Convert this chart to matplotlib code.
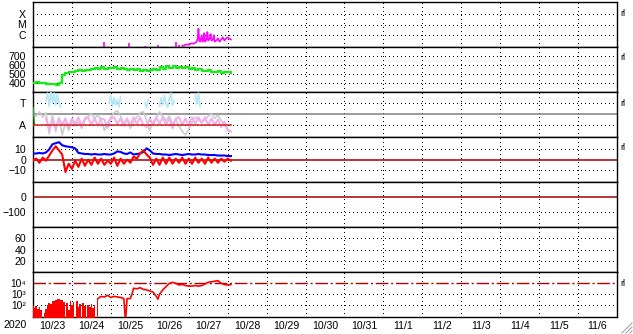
import numpy as np
import matplotlib

matplotlib.use("Agg")
import matplotlib.pyplot as plt
from matplotlib.lines import Line2D

plt.rcParams["font.family"] = ["Liberation Sans", "DejaVu Sans"]

# --- data (time in hours from 2020-10-23 00:00) ---
date_labels = ["10/23", "10/24", "10/25", "10/26", "10/27", "10/28", "10/29",
               "10/30", "10/31", "11/1", "11/2", "11/3", "11/4", "11/5", "11/6"]

# 2-hour cadence, 0..122 h
speed = [405, 410, 400, 395, 388, 385, 390, 383, 395, 490, 515, 525, 520, 530, 540, 535,
         545, 540, 550, 565, 560, 575, 555, 570, 565, 580, 560, 570, 550, 545, 555, 540,
         550, 535, 540, 530, 545, 560, 540, 575, 560, 585, 570, 590, 565, 580, 570, 575,
         560, 565, 545, 555, 535, 530, 540, 525, 520, 530, 515, 525, 520, 510]

bt = [6, 6, 6.5, 6, 7, 10, 15, 16, 17, 14, 13, 12.5, 12, 11, 6.5, 6, 5.5, 5.5, 5, 5.5,
      5, 5, 5.5, 5, 5, 6, 8, 7.5, 6, 5.5, 7, 5, 5.5, 6, 7.5, 11, 9, 6, 5.5, 5.5, 5, 5,
      4.5, 5, 5.5, 5, 4.5, 5, 5.5, 5, 5, 5.5, 5, 5, 4.5, 4.5, 4.5, 4, 4, 4, 3.5, 3.5]

bz = [-1, 1, -3, 2, -1, 4, 9, 13, 9, 5, -12, -4, -9, -1, -7, 1, -6, 0, -5, 2, -4, 1,
      -5, -1, -4, 2, -6, 1, -4, 0, -3, 3, 1, 6, 9, 5, 2, -5, 1, -5, 2, -4, 2, -4, 1, -3,
      2, -4, 1, -4, 2, -3, 1, -4, 2, -3, 1, -3, 1, -2, 1, -1]

# T/A panel: A = 0, T = 1
ta_gray = [0.5, 0.4, 0.6, 0.35, 0.55, -0.4, 0.45, -0.3, 0.35, -0.45, 0.1, -0.25, 0.2,
           -0.05, 0.15, -0.15, 0.2, 0.4, 0.5, 0.3, 0.45, 0.2, -0.25, 0.1, 0.35, 0.55, 0.65,
           0.4, 0.05, 0.25, -0.15, 0.15, 0.35, 0.55, 0.6, 0.2, -0.25, 0.1, 0.35, 0.6, 0.4,
           0.2, 0.4, 0.05, 0.25, -0.05, -0.3, -0.45, -0.2, 0.1, 0.35, 0.25, 0.1, 0.25,
           0.4, 0.5, 0.3, 0.45, 0.2, 0.0, -0.2, -0.3]
ta_pink = [0.3, -0.2, 0.25, -0.15, 0.3, 0.0, 0.3, -0.1, 0.3, 0.05, 0.35, -0.05, 0.3, 0.35,
           0.0, 0.3, -0.05, 0.3, 0.25, -0.15, 0.3, 0.35, 0.05, 0.3, -0.05, 0.3, 0.0, 0.35,
           0.05, 0.35, 0.0, -0.1, 0.3, 0.0, 0.35, 0.05, 0.35, 0.0, 0.3, -0.15, 0.3, 0.35,
           0.0, 0.3, -0.05, 0.35, 0.05, 0.35, 0.1, 0.35, 0.0, 0.3, 0.0, 0.25, -0.1, 0.15,
           -0.25, -0.3]
ta_blue_hours = [8, 9, 10, 11, 12, 13, 14, 15, 16, 17, np.nan, 47, 48, 49, 50, 51, 52, 53,
                 54, np.nan, 69, 70, 71, np.nan, 78, 79, 80, 81, 82, 83, 84, 85, 86, 87,
                 np.nan, 100, 101, 102, 103]
ta_blue = [1.1, 1.45, 0.85, 1.5, 1.0, 1.45, 0.9, 1.4, 1.05, 0.8, np.nan, 1.0, 1.35, 0.85,
           1.25, 0.9, 1.15, 0.8, 1.3, np.nan, 1.0, 0.8, 1.15, np.nan, 0.85, 1.25, 0.9, 1.35,
           0.95, 0.8, 1.2, 1.45, 0.9, 1.1, np.nan, 1.35, 0.95, 1.45, 0.85]
ta_green_hours = [0, 0.3, 0.6, 1.0]
ta_green = [0.8, 0.6, 0.3, 0.0]

# X-ray flux, log10 W/m2
xray_spike_hours = [44, 59, 69, 77, 88, 90]
xray_spike = [-6.63, -6.72, -7.0, -6.95, -6.63, -6.95]
xray_hours = [92, 93, 94, 95, 96, 97, 98, 99, 100, 101, 101.5, 102, 102.5, 103, 104, 104.5,
              105, 105.5, 106, 107, 107.5, 108, 109, 109.5, 110, 111, 111.5, 112, 113, 114,
              115, 116, 117, 118, 119, 120, 121, 122]
xray = [-7.0, -6.95, -6.9, -6.85, -6.9, -6.8, -6.75, -6.8, -6.7, -6.6, -6.3, -5.4, -6.5,
        -6.6, -6.0, -6.6, -6.5, -5.8, -6.6, -6.4, -5.7, -6.5, -6.3, -5.9, -6.5, -6.4, -6.0,
        -6.6, -6.5, -6.3, -6.6, -6.4, -6.2, -6.5, -6.3, -6.2, -6.3, -6.4]

# electron flux, log10; hourly 0..40 (filled), then line
elec_early = [1.9, 1.7, 1.95, 1.6, 1.85, 1.5, 0.5, 1.3, 1.6, 2.0, 2.2, 2.1, 2.35, 2.4, 2.5,
              2.55, 2.6, 2.5, 2.45, 2.3, 0.5, 2.2, 1.5, 2.35, 2.0, 2.3, 0.5, 2.4, 1.8, 2.1,
              0.5, 2.2, 1.9, 0.5, 2.0, 1.8, 2.1, 1.7, 2.0, 0.5, 2.6]
elec_late_hours = [40, 42, 44, 46, 48, 50, 52, 54, 56, 57, 58, 60, 61, 62, 64, 66, 68, 70,
                   72, 74, 76, 77, 78, 80, 82, 84, 86, 88, 90, 92, 94, 96, 98, 100, 102,
                   104, 106, 108, 110, 112, 114, 116, 118, 120, 122]
elec_late = [2.6, 2.8, 2.75, 2.9, 2.7, 2.8, 2.75, 2.7, 2.6, 0.5, 2.6, 2.6, 3.0, 3.55, 3.5,
             3.6, 3.45, 3.4, 3.3, 3.2, 2.8, 2.55, 3.0, 3.4, 3.7, 4.0, 4.1, 4.0, 3.85, 3.9,
             3.8, 3.75, 3.75, 3.8, 3.75, 3.8, 3.95, 4.1, 4.15, 4.2, 4.25, 4.0, 3.9, 3.85, 3.9]

W, H = 633, 334
LEFT, RIGHT = 33, 617
PANEL_H = 45
TOPS = [2, 47, 92, 137, 182, 227, 272]
DOT = (0, (1, 3))
DOT_LW = 0.72

fig = plt.figure(figsize=(W / 100, H / 100), dpi=100)
fig.patch.set_facecolor("white")

hours2 = np.arange(0, 123, 2)


def d(hours):
    return np.asarray(hours, dtype=float) / 24.0


def panel(top):
    ax = fig.add_axes([LEFT / W, 1 - (top + PANEL_H) / H, (RIGHT - LEFT) / W, PANEL_H / H])
    ax.set_xlim(0, 15)
    ax.set_xticks([])
    for s in ax.spines.values():
        s.set_linewidth(1.0)
        s.set_color("black")
    ax.tick_params(axis="y", length=0, pad=5, labelsize=7.6)
    for day in range(1, 15):
        ax.axvline(day, color="black", lw=DOT_LW, ls=DOT, antialiased=False, zorder=1)
    return ax


def hgrid(ax, ys):
    for y in ys:
        ax.axhline(y, color="black", lw=DOT_LW, ls=DOT, antialiased=False, zorder=1)


axes = [panel(t) for t in TOPS]

# 1: X-ray
ax = axes[0]
ax.set_yscale("log")
ax.set_ylim(10 ** -7.1, 10 ** -2.9)
ax.set_yticks([1e-4, 1e-5, 1e-6])
ax.set_yticklabels(["X", "M", "C"])
ax.minorticks_off()
hgrid(ax, [1e-4, 1e-5, 1e-6])
ax.vlines(d(xray_spike_hours), 1e-8, 10 ** np.array(xray_spike), color="#ff00ff", lw=1.2, zorder=3)
ax.plot(d(xray_hours), 10 ** np.array(xray), color="#ff00ff", lw=1.2, zorder=3)

# 2: solar wind speed
ax = axes[1]
ax.set_ylim(300, 800)
ax.set_yticks([400, 500, 600, 700])
hgrid(ax, [400, 500, 600, 700])
ax.plot(d(hours2), speed, color="#11ee11", lw=1.6, drawstyle="steps-post", zorder=3)

# 3: T / A
ax = axes[2]
ax.set_ylim(-0.55, 1.5)
ax.set_yticks([1, 0])
ax.set_yticklabels(["T", "A"])
hgrid(ax, [1, 0])
ax.axhline(0.5, color="#808080", lw=1.1, zorder=2)
ax.plot(d(hours2), ta_gray, color="#cccccc", lw=1.2, zorder=3)
ax.plot(d(ta_blue_hours), ta_blue, color="#b4e8f6", lw=1.2, zorder=3)
ax.plot(d(hours2[4:]), ta_pink, color="#f4acee", lw=1.4, zorder=4)
ax.plot(d(ta_green_hours), ta_green, color="#339933", lw=1.0, zorder=5)
ax.plot([0, d(122)], [0, 0], color="#d82020", lw=1.1, zorder=5)

# 4: Bt / Bz
ax = axes[3]
ax.set_ylim(-21.7, 22)
ax.set_yticks([10, 0, -10])
hgrid(ax, [10, -10])
ax.axhline(0, color="#a00000", lw=1.1, zorder=2)
ax.plot(d(hours2), bt, color="#0000ff", lw=1.5, zorder=3)
ax.plot(d(hours2), bz, color="#ff0000", lw=1.5, zorder=4)

# 5: Dst
ax = axes[4]
ax.set_ylim(-200, 100)
ax.set_yticks([0, -100])
hgrid(ax, [-100])
ax.axhline(0, color="#a00000", lw=1.1, zorder=2)

# 6: Kp-like
ax = axes[5]
ax.set_ylim(0, 80)
ax.set_yticks([60, 40, 20])
hgrid(ax, [60, 40, 20])

# 7: electron flux
ax = axes[6]
ax.set_yscale("log")
ax.set_ylim(10 ** 0.9, 10 ** 5.05)
ax.set_yticks([1e4, 1e3, 1e2])
ax.set_yticklabels(["10\u2074", "10\u00b3", "10\u00b2"], fontsize=7.4)
ax.minorticks_off()
hgrid(ax, [1e3, 1e2])
ax.axhline(1e4, color="#b00000", lw=1.0, ls=(0, (9, 2, 1.5, 2)), zorder=2)
early_hours = np.arange(0, 41)
ax.fill_between(d(early_hours), 1, 10 ** np.array(elec_early), step="mid",
                color="#ff0000", lw=0, zorder=3)
ax.plot(d(elec_late_hours), 10 ** np.array(elec_late), color="#ff0000", lw=1.2, zorder=3)
ax.set_xticks(np.arange(15) + 0.5)
ax.set_xticklabels(date_labels)
ax.tick_params(axis="x", length=0, pad=3, labelsize=7.6)

fig.text(4 / W, 1 - 325 / H, "2020", fontsize=7.6, va="center", ha="left")

for top in [2, 47, 92, 137, 272]:
    fig.text(620 / W, 1 - (top + 11) / H, "rl", fontsize=6.5, va="center", ha="left")

# resize grip in corner
for off in (0, 4, 8):
    fig.add_artist(Line2D([(622 + off) / W, 632 / W], [1 / H, (11 - off) / H],
                          color="#999999", lw=0.7, transform=fig.transFigure))

fig.savefig("out.png", dpi=100, facecolor="white")
